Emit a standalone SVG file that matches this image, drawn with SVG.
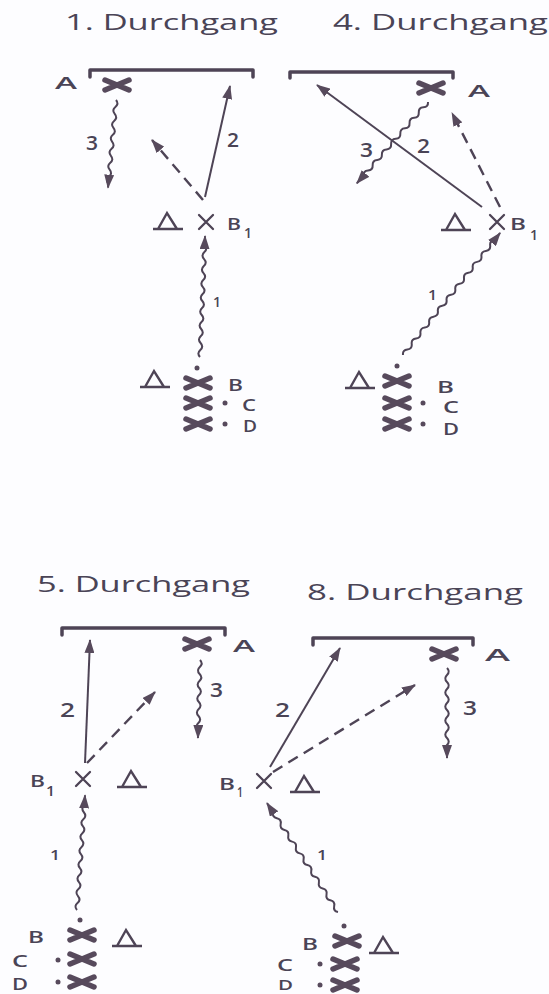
<svg xmlns="http://www.w3.org/2000/svg" xmlns:xlink="http://www.w3.org/1999/xlink" width="549" height="994" viewBox="0 0 549 994">
<style>
text{font-family:"Open Sans","Noto Sans","Liberation Sans",sans-serif;fill:#4a4456}
.t{font-size:22px}
.l{font-size:17px;font-weight:600}
.n{font-size:19px;font-weight:600}
.s{font-size:14px;font-weight:600}
.bar{fill:none;stroke:#4e4456;stroke-width:3.5;stroke-linecap:round;stroke-linejoin:round}
.bx{fill:none;stroke:#574a5c;stroke-width:5.5;stroke-linecap:round}
.tx{fill:none;stroke:#4e4456;stroke-width:2.3;stroke-linecap:round}
.tri{fill:none;stroke:#4e4456;stroke-width:2.4;stroke-linejoin:miter}
.dot{fill:#574a5c}
.sol{fill:none;stroke:#4e4456;stroke-width:2;marker-end:url(#ah)}
.dsh{fill:none;stroke:#4e4456;stroke-width:2.4;stroke-dasharray:11 7;marker-end:url(#ah)}
.wav{fill:none;stroke:#4e4456;stroke-width:2;marker-end:url(#ah)}
</style>
<defs>
<marker id="ah" markerUnits="userSpaceOnUse" markerWidth="14" markerHeight="10" viewBox="0 0 14 10" refX="13" refY="5" orient="auto"><path d="M0,0 L14,5 L0,10 z" fill="#574a5c"/></marker>
<g id="bigx"><path class="bx" d="M-12,-5 L12,5 M-12,5 L12,-5"/></g>
<g id="smx"><path class="tx" d="M-7,-7 L7,7 M-7,7 L7,-7"/></g>
<g id="cone"><path class="tri" d="M-10,8 L-1,-8 L9,8 M-15,8 L15,8"/></g>
</defs>
<rect width="549" height="994" fill="#fdfdff"/>

<g id="connectors">
<!-- panel 1 -->
<path class="wav" transform="translate(116,100) rotate(95.2)" d="M0,0 q3.5,-3.5 7,0 t7,0 t7,0 t7,0 t7,0 t7,0 t7,0 t7,0 t7,0 t7,0 t7,0 t7,0 L88,0"/>
<path class="dsh" d="M203,200 L152,140"/>
<path class="sol" d="M205,197 L230,86"/>
<path class="wav" transform="translate(200,357) rotate(-87.6)" d="M0,0 q3.5,-3.5 7,0 t7,0 t7,0 t7,0 t7,0 t7,0 t7,0 t7,0 t7,0 t7,0 t7,0 t7,0 t7,0 t7,0 t7,0 t7,0 L121,0"/>
<!-- panel 2 -->
<path class="sol" d="M482,207 L317,85"/>
<path class="wav" transform="translate(428,102) rotate(131.2)" d="M0,0 q3.5,-3.5 7,0 t7,0 t7,0 t7,0 t7,0 t7,0 t7,0 t7,0 t7,0 t7,0 t7,0 t7,0 t7,0 t7,0 L108,0"/>
<path class="dsh" d="M500,207 L452,113"/>
<path class="wav" transform="translate(403,355) rotate(-51.5)" d="M0,0 q3.5,-3.5 7,0 t7,0 t7,0 t7,0 t7,0 t7,0 t7,0 t7,0 t7,0 t7,0 t7,0 t7,0 t7,0 t7,0 t7,0 t7,0 t7,0 t7,0 t7,0 t7,0 t7,0 L156,0"/>
<!-- panel 3 -->
<path class="sol" d="M85,763 L90,640"/>
<path class="dsh" d="M87,763 L155,692"/>
<path class="wav" transform="translate(200,660) rotate(91.5)" d="M0,0 q3.5,-3.5 7,0 t7,0 t7,0 t7,0 t7,0 t7,0 t7,0 t7,0 t7,0 t7,0 L78,0"/>
<path class="wav" transform="translate(77,910) rotate(-86)" d="M0,0 q3.5,-3.5 7,0 t7,0 t7,0 t7,0 t7,0 t7,0 t7,0 t7,0 t7,0 t7,0 t7,0 t7,0 t7,0 t7,0 t7,0 L115,0"/>
<!-- panel 4 -->
<path class="sol" d="M270,767 L340,648"/>
<path class="dsh" d="M273,772 L415,685"/>
<path class="wav" transform="translate(447,668) rotate(90)" d="M0,0 q3.5,-3.5 7,0 t7,0 t7,0 t7,0 t7,0 t7,0 t7,0 t7,0 t7,0 t7,0 t7,0 t7,0 L90,0"/>
<path class="wav" transform="translate(338,912) rotate(-123.1)" d="M0,0 q3.5,-3.5 7,0 t7,0 t7,0 t7,0 t7,0 t7,0 t7,0 t7,0 t7,0 t7,0 t7,0 t7,0 t7,0 t7,0 t7,0 t7,0 t7,0 L130,0"/>
</g>

<g id="labels">
<text class="t" x="65" y="30" textLength="213" lengthAdjust="spacingAndGlyphs">1. Durchgang</text>
<text class="n" x="86" y="150" textLength="12" lengthAdjust="spacingAndGlyphs">3</text>
<text class="n" x="227" y="147" textLength="12" lengthAdjust="spacingAndGlyphs">2</text>
<text class="s" x="213" y="307" textLength="8" lengthAdjust="spacingAndGlyphs">1</text>

<text class="t" x="333" y="30" textLength="215" lengthAdjust="spacingAndGlyphs">4. Durchgang</text>
<text class="n" x="417" y="153" textLength="13" lengthAdjust="spacingAndGlyphs">2</text>
<text class="n" x="360" y="157" textLength="13" lengthAdjust="spacingAndGlyphs">3</text>
<text class="s" x="428" y="300" textLength="9" lengthAdjust="spacingAndGlyphs">1</text>

<text class="t" x="37" y="592" textLength="213" lengthAdjust="spacingAndGlyphs">5. Durchgang</text>
<text class="n" x="60" y="717" textLength="15" lengthAdjust="spacingAndGlyphs">2</text>
<text class="n" x="210" y="697" textLength="13" lengthAdjust="spacingAndGlyphs">3</text>
<text class="s" x="50" y="860" textLength="10" lengthAdjust="spacingAndGlyphs">1</text>

<text class="t" x="307" y="600" textLength="216" lengthAdjust="spacingAndGlyphs">8. Durchgang</text>
<text class="n" x="275" y="717" textLength="15" lengthAdjust="spacingAndGlyphs">2</text>
<text class="n" x="463" y="715" textLength="14" lengthAdjust="spacingAndGlyphs">3</text>
<text class="s" x="317" y="860" textLength="10" lengthAdjust="spacingAndGlyphs">1</text>
</g>

<!-- Panel 1 nodes -->
<g id="p1-goal"><path class="bar" d="M90,77 L90,70 L253,70 L253,77"/></g>
<g id="p1-A"><use xlink:href="#bigx" x="117" y="85"/><text class="l" x="55" y="89" textLength="22" lengthAdjust="spacingAndGlyphs">A</text></g>
<g id="p1-B1"><use xlink:href="#cone" x="168" y="221"/><use xlink:href="#smx" x="206" y="222"/><text class="l" x="227" y="230" textLength="14" lengthAdjust="spacingAndGlyphs">B</text><text class="s" x="244" y="238" textLength="8" lengthAdjust="spacingAndGlyphs">1</text></g>
<g id="p1-B"><use xlink:href="#cone" x="155" y="379"/><circle class="dot" cx="197" cy="368" r="2.5"/><use xlink:href="#bigx" x="198" y="383"/><text class="l" x="228" y="391" textLength="15" lengthAdjust="spacingAndGlyphs">B</text></g>
<g id="p1-C"><use xlink:href="#bigx" x="198" y="403"/><circle class="dot" cx="225" cy="403" r="2.5"/><text class="l" x="242" y="411" textLength="14" lengthAdjust="spacingAndGlyphs">C</text></g>
<g id="p1-D"><use xlink:href="#bigx" x="198" y="424"/><circle class="dot" cx="225" cy="424" r="2.5"/><text class="l" x="243" y="432" textLength="14" lengthAdjust="spacingAndGlyphs">D</text></g>

<!-- Panel 2 nodes -->
<g id="p2-goal"><path class="bar" d="M290,78 L290,72 L453,72 L453,78"/></g>
<g id="p2-A"><use xlink:href="#bigx" x="431" y="88"/><text class="l" x="468" y="97" textLength="22" lengthAdjust="spacingAndGlyphs">A</text></g>
<g id="p2-B1"><use xlink:href="#cone" x="456" y="222"/><use xlink:href="#smx" x="497" y="222"/><text class="l" x="510" y="230" textLength="16" lengthAdjust="spacingAndGlyphs">B</text><text class="s" x="530" y="240" textLength="8" lengthAdjust="spacingAndGlyphs">1</text></g>
<g id="p2-B"><use xlink:href="#cone" x="360" y="380"/><circle class="dot" cx="397" cy="366" r="2.5"/><use xlink:href="#bigx" x="397" y="381"/><text class="l" x="437" y="393" textLength="17" lengthAdjust="spacingAndGlyphs">B</text></g>
<g id="p2-C"><use xlink:href="#bigx" x="397" y="403"/><circle class="dot" cx="423" cy="403" r="2.5"/><text class="l" x="443" y="413" textLength="16" lengthAdjust="spacingAndGlyphs">C</text></g>
<g id="p2-D"><use xlink:href="#bigx" x="397" y="424"/><circle class="dot" cx="423" cy="424" r="2.5"/><text class="l" x="443" y="435" textLength="16" lengthAdjust="spacingAndGlyphs">D</text></g>

<!-- Panel 3 nodes -->
<g id="p3-goal"><path class="bar" d="M62,635 L62,628 L225,628 L225,635"/></g>
<g id="p3-A"><use xlink:href="#bigx" x="197" y="644"/><text class="l" x="233" y="652" textLength="22" lengthAdjust="spacingAndGlyphs">A</text></g>
<g id="p3-B1"><text class="l" x="30" y="787" textLength="15" lengthAdjust="spacingAndGlyphs">B</text><text class="s" x="46" y="796" textLength="9" lengthAdjust="spacingAndGlyphs">1</text><use xlink:href="#smx" x="83" y="779"/><use xlink:href="#cone" x="132" y="779"/></g>
<g id="p3-B"><circle class="dot" cx="80" cy="920" r="2.5"/><use xlink:href="#bigx" x="82" y="935"/><text class="l" x="28" y="943" textLength="16" lengthAdjust="spacingAndGlyphs">B</text><use xlink:href="#cone" x="127" y="938"/></g>
<g id="p3-C"><use xlink:href="#bigx" x="82" y="959"/><circle class="dot" cx="58" cy="960" r="2.5"/><text class="l" x="12" y="967" textLength="16" lengthAdjust="spacingAndGlyphs">C</text></g>
<g id="p3-D"><use xlink:href="#bigx" x="82" y="982"/><circle class="dot" cx="58" cy="982" r="2.5"/><text class="l" x="12" y="990" textLength="16" lengthAdjust="spacingAndGlyphs">D</text></g>

<!-- Panel 4 nodes -->
<g id="p4-goal"><path class="bar" d="M313,645 L313,638 L473,638 L473,645"/></g>
<g id="p4-A"><use xlink:href="#bigx" x="444" y="654"/><text class="l" x="485" y="661" textLength="25" lengthAdjust="spacingAndGlyphs">A</text></g>
<g id="p4-B1"><text class="l" x="219" y="790" textLength="16" lengthAdjust="spacingAndGlyphs">B</text><text class="s" x="237" y="797" textLength="6" lengthAdjust="spacingAndGlyphs">1</text><use xlink:href="#smx" x="264" y="781"/><use xlink:href="#cone" x="305" y="784"/></g>
<g id="p4-B"><circle class="dot" cx="344" cy="926" r="2.5"/><use xlink:href="#bigx" x="347" y="941"/><text class="l" x="302" y="950" textLength="16" lengthAdjust="spacingAndGlyphs">B</text><use xlink:href="#cone" x="384" y="945"/></g>
<g id="p4-C"><use xlink:href="#bigx" x="345" y="964"/><circle class="dot" cx="320" cy="964" r="2.5"/><text class="l" x="277" y="971" textLength="16" lengthAdjust="spacingAndGlyphs">C</text></g>
<g id="p4-D"><use xlink:href="#bigx" x="345" y="985"/><circle class="dot" cx="320" cy="985" r="2.5"/><text x="278" y="990" textLength="15" lengthAdjust="spacingAndGlyphs" style="font-size:14px;font-weight:600">D</text></g>
</svg>
